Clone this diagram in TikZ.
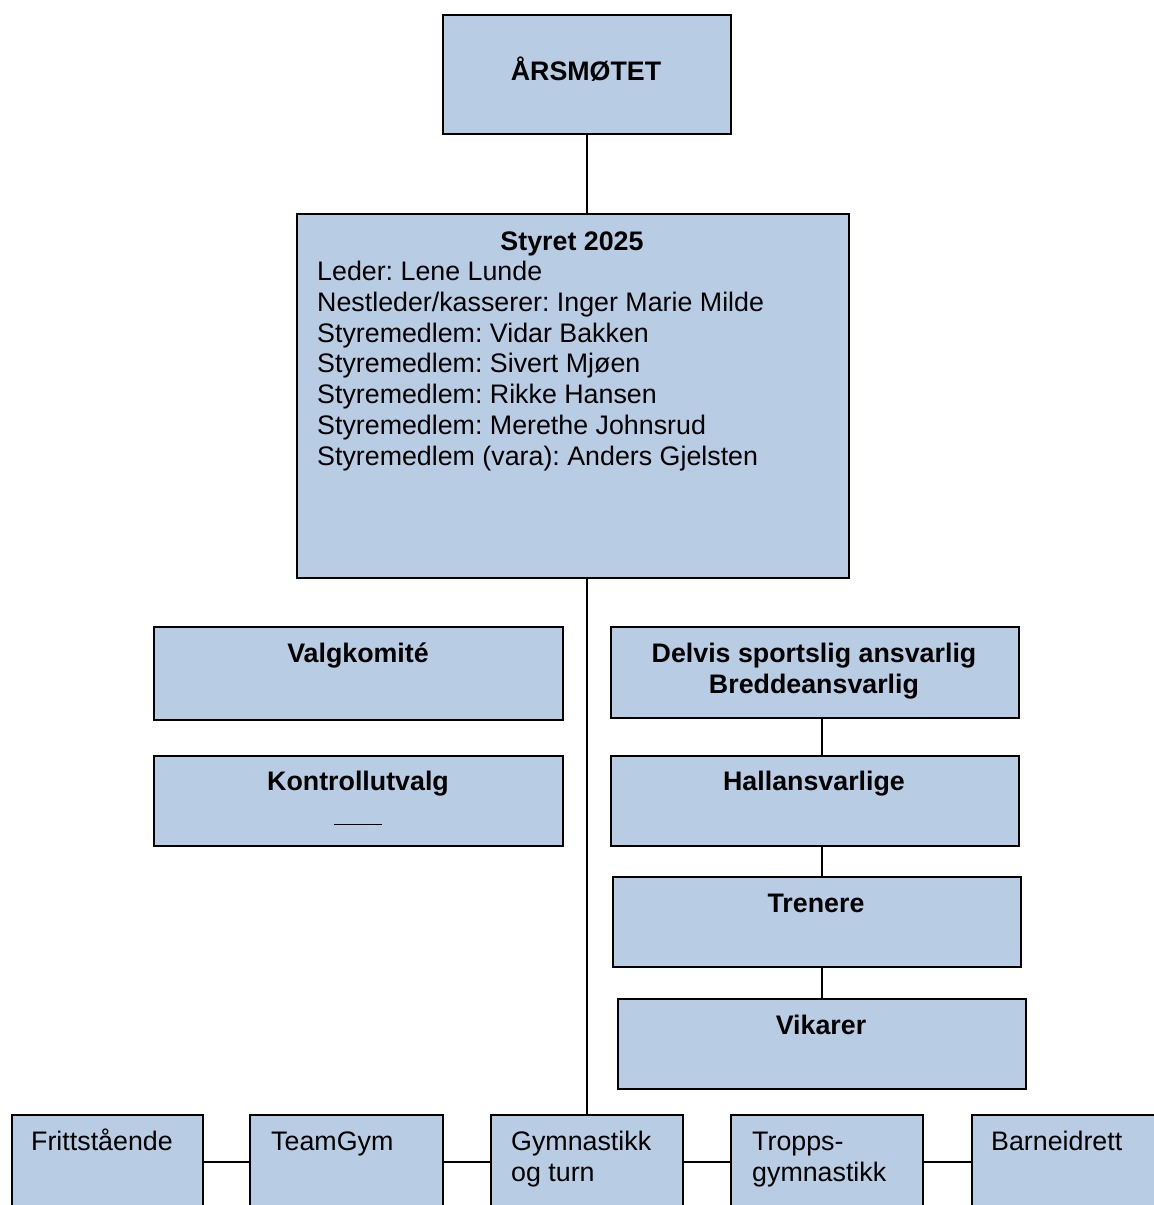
\documentclass[tikz,border=0pt]{standalone}
\usepackage{fontspec}
\setmainfont{Liberation Sans}
\frenchspacing
\usetikzlibrary{positioning,calc}
\definecolor{boxblue}{HTML}{B8CCE4}

\begin{document}
\begin{tikzpicture}[%
    x=1pt, y=-1pt,              % work in pixel units of the page
    every node/.style={inner sep=0pt},
    ]
% -------------------------------------------------
% Box and text styles
% (a node with several lines sits on the baseline of its last line)
\tikzset{
  box/.style={draw, fill=boxblue, line width=1.6pt, anchor=north west},
  head/.style={anchor=base, align=center, font=\bfseries\fontsize{26.8}{30.7}\selectfont},
  body/.style={anchor=base west, align=left, font=\fontsize{26.8}{30.7}\selectfont},
  link/.style={line width=1.5pt},
}
\useasboundingbox (0,0) rectangle (1154,1205);
\clip (0,0) rectangle (1154,1205);
% -------------------------------------------------
% Main column
\node [box, minimum width=288, minimum height=119] (aarsmote) at (442,14) {};
\node [box, minimum width=552, minimum height=364] (styret) at (296,213) {};

% Left side
\node [box, minimum width=409, minimum height=93] (valg) at (153,626) {};
\node [box, minimum width=409, minimum height=90] (kontroll) at (153,755) {};

% Right side
\node [box, minimum width=408, minimum height=91] (delvis) at (610,626) {};
\node [box, minimum width=408, minimum height=90] (hall) at (610,755) {};
\node [box, minimum width=408, minimum height=90] (trenere) at (612,876) {};
\node [box, minimum width=408, minimum height=90] (vikar) at (617,998) {};

% Bottom row
\node [box, minimum width=191, minimum height=150] (fritt) at (11,1114) {};
\node [box, minimum width=193, minimum height=150] (teamgym) at (249,1114) {};
\node [box, minimum width=192, minimum height=150] (gym) at (490,1114) {};
\node [box, minimum width=192, minimum height=150] (tropp) at (730,1114) {};
\node [box, minimum width=210, minimum height=150] (barn) at (971,1114) {};

% -------------------------------------------------
% Texts
\node [head] (aarsmote-txt) at (586,80) {ÅRSMØTET};
\node [head] (styret-txt) at (572,250) {Styret 2025};
\node [body] (styret-list) at (317,465) {Leder: Lene Lunde\\
  Nestleder/kasserer: Inger Marie Milde\\
  Styremedlem: Vidar Bakken\\
  Styremedlem: Sivert Mjøen\\
  Styremedlem: Rikke Hansen\\
  Styremedlem: Merethe Johnsrud\\
  Styremedlem (vara): Anders Gjelsten};
\node [head] (valg-txt) at (358,662) {Valgkomité};
\node [head] (kontroll-txt) at (358,821) {Kontrollutvalg\\\rule[-4pt]{48pt}{1.4pt}};
\node [head] (delvis-txt) at (814,693) {Delvis sportslig ansvarlig\\Breddeansvarlig};
\node [head] (hall-txt) at (814,790) {Hallansvarlige};
\node [head] (trenere-txt) at (816,912) {Trenere};
\node [head] (vikar-txt) at (821,1034) {Vikarer};
\node [body] (fritt-txt) at (31,1150) {Frittstående};
\node [body] (teamgym-txt) at (271,1150) {TeamGym};
\node [body] (gym-txt) at (511,1181) {Gymnastikk\\og turn};
\node [body] (tropp-txt) at (752,1181) {Tropps-\\gymnastikk};
\node [body] (barn-txt) at (991,1150) {Barneidrett};

% -------------------------------------------------
% Connectors
\coordinate (row) at (0,1162);
\draw [link] (aarsmote.south) -- (aarsmote.south |- styret.north);
\draw [link] (gym.north |- styret.south) -- (gym.north);
\draw [link] (vikar.north |- delvis.south) -- (vikar.north |- hall.north);
\draw [link] (vikar.north |- hall.south) -- (vikar.north |- trenere.north);
\draw [link] (vikar.north |- trenere.south) -- (vikar.north);
\foreach \a/\b in {fritt/teamgym, teamgym/gym, gym/tropp, tropp/barn}
  \draw [link] (\a.east |- row) -- (\b.west |- row);

\end{tikzpicture}
\end{document}
